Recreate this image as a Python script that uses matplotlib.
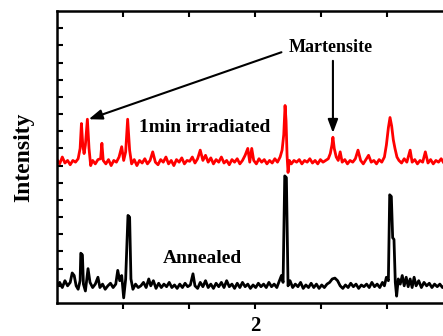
import matplotlib
matplotlib.use("Agg")
import matplotlib.pyplot as plt

plt.rcParams['font.family'] = ['Liberation Serif', 'DejaVu Serif']

# ---- data (2theta in degrees, intensity in arbitrary offset units) ----
irr_x = [30.0, 30.4, 30.8, 31.2, 31.6, 32.0, 32.4, 32.8, 33.2, 33.5, 33.7, 33.9, 34.1, 34.3, 34.6, 34.85,
         35.1, 35.4, 35.8, 36.2, 36.6, 36.8, 37.0, 37.4, 37.8, 38.2, 38.6, 39.0, 39.4, 39.8, 40.1, 40.4,
         40.7, 41.0, 41.3, 41.7, 42.1, 42.5, 42.9, 43.3, 43.7, 44.1, 44.5, 44.9, 45.3, 45.7, 46.1, 46.5,
         46.9, 47.3, 47.7, 48.1, 48.5, 48.9, 49.3, 49.7, 50.1, 50.5, 50.9, 51.3, 51.7, 52.1, 52.5, 52.9,
         53.3, 53.7, 54.1, 54.5, 54.9, 55.3, 55.7, 56.1, 56.5, 56.9, 57.3, 57.7, 58.1, 58.5, 58.9, 59.2,
         59.5, 59.8, 60.2, 60.6, 61.0, 61.4, 61.8, 62.2, 62.6, 63.0, 63.4, 63.8, 64.1, 64.35, 64.55, 64.7,
         64.85, 65.0, 65.2, 65.5, 65.9, 66.3, 66.7, 67.1, 67.5, 67.9, 68.3, 68.7, 69.1, 69.5, 69.9, 70.3,
         70.7, 71.1, 71.4, 71.65, 71.8, 72.0, 72.3, 72.6, 72.9, 73.2, 73.6, 74.0, 74.4, 74.8, 75.2, 75.6,
         76.0, 76.4, 76.8, 77.2, 77.6, 78.0, 78.4, 78.8, 79.2, 79.6, 79.9, 80.2, 80.45, 80.7, 80.95, 81.2,
         81.5, 81.8, 82.2, 82.6, 83.0, 83.5, 83.8, 84.2, 84.6, 85.0, 85.4, 85.8, 86.2, 86.6, 87.0, 87.4,
         87.8, 88.2, 88.6, 89.0, 89.5, 90.0]
irr_y = [8.35, 8.1, 8.5, 8.15, 8.3, 8.05, 8.3, 8.2, 8.4, 9.0, 10.45, 9.2, 8.7, 9.2, 10.7, 9.0,
         8.0, 8.3, 8.1, 8.35, 8.4, 9.3, 8.3, 8.1, 8.35, 8.0, 8.3, 8.2, 8.5, 9.1, 8.3, 8.8,
         10.7, 8.9, 8.1, 8.35, 8.0, 8.3, 8.15, 8.4, 8.1, 8.3, 8.8, 8.2, 8.05, 8.35, 8.2, 8.5,
         8.1, 8.3, 8.0, 8.35, 8.2, 8.45, 8.1, 8.3, 8.25, 8.5, 8.15, 8.4, 8.9, 8.3, 8.6, 8.2,
         8.45, 8.1, 8.35, 8.2, 8.5, 8.15, 8.3, 8.05, 8.35, 8.2, 8.4, 8.1, 8.3, 8.6, 9.0, 8.2,
         9.0, 8.3, 8.1, 8.4, 8.2, 8.35, 8.1, 8.3, 8.15, 8.4, 8.2, 8.5, 8.9, 9.8, 11.5, 10.6,
         8.6, 7.6, 8.3, 8.1, 8.3, 8.2, 8.35, 8.1, 8.3, 8.2, 8.4, 8.15, 8.3, 8.1, 8.35, 8.2,
         8.3, 8.4, 8.7, 9.2, 9.65, 9.0, 8.5, 8.3, 8.8, 8.2, 8.35, 8.1, 8.3, 8.2, 8.4, 8.9,
         8.3, 8.1, 8.35, 8.6, 8.2, 8.3, 8.1, 8.35, 8.2, 8.5, 9.2, 10.2, 10.8, 10.3, 9.5, 9.0,
         8.5, 8.3, 8.15, 8.4, 8.2, 8.9, 8.2, 8.35, 8.1, 8.3, 8.2, 8.8, 8.15, 8.35, 8.1, 8.3,
         8.2, 8.4, 8.15, 8.3, 8.2, 8.3]

ann_x = [30.0, 30.4, 30.8, 31.2, 31.6, 32.0, 32.3, 32.6, 32.9, 33.2, 33.5, 33.6, 33.85, 34.0, 34.3, 34.7,
         35.0, 35.4, 35.8, 36.2, 36.5, 36.9, 37.3, 37.7, 38.1, 38.5, 38.9, 39.2, 39.5, 39.8, 40.1, 40.4,
         40.75, 41.0, 41.2, 41.5, 41.9, 42.3, 42.7, 43.1, 43.5, 43.9, 44.2, 44.6, 45.0, 45.4, 45.8, 46.2,
         46.6, 47.0, 47.4, 47.8, 48.2, 48.6, 49.0, 49.4, 49.8, 50.2, 50.6, 50.9, 51.3, 51.7, 52.1, 52.5,
         52.9, 53.3, 53.7, 54.1, 54.5, 54.9, 55.3, 55.7, 56.1, 56.5, 56.9, 57.3, 57.7, 58.1, 58.5, 58.9,
         59.3, 59.7, 60.1, 60.5, 60.9, 61.3, 61.7, 62.1, 62.5, 62.9, 63.3, 63.7, 64.0, 64.25, 64.5, 64.75,
         65.0, 65.3, 65.7, 66.1, 66.5, 66.9, 67.3, 67.7, 68.1, 68.5, 68.9, 69.3, 69.7, 70.1, 70.5, 70.9,
         71.3, 71.7, 72.1, 72.5, 72.9, 73.3, 73.7, 74.1, 74.5, 74.9, 75.3, 75.7, 76.1, 76.5, 76.9, 77.3,
         77.7, 78.1, 78.5, 78.9, 79.3, 79.6, 79.9, 80.2, 80.4, 80.65, 80.85, 81.05, 81.25, 81.45, 81.7, 82.0,
         82.3, 82.6, 82.9, 83.2, 83.5, 83.8, 84.1, 84.4, 84.8, 85.2, 85.6, 86.0, 86.4, 86.8, 87.2, 87.6,
         88.0, 88.4, 88.8, 89.2, 89.6, 90.0]
ann_y = [1.0, 1.2, 0.9, 1.3, 1.0, 1.2, 1.75, 1.6, 1.0, 0.8, 1.3, 2.9, 2.8, 1.1, 0.7, 2.0,
         1.2, 0.9, 1.1, 1.5, 0.9, 1.1, 0.8, 1.0, 1.15, 0.9, 1.1, 1.9, 1.3, 1.6, 0.3, 1.4,
         5.1, 5.0, 1.4, 0.8, 1.1, 0.9, 1.0, 1.2, 0.9, 1.4, 1.0, 1.3, 0.85, 1.15, 0.9, 1.1,
         0.95, 1.2, 0.9, 1.05, 0.85, 1.1, 0.9, 1.15, 0.95, 1.05, 1.7, 1.0, 0.85, 1.2, 0.95, 1.3,
         0.9, 1.1, 0.85, 1.15, 0.95, 1.2, 0.9, 1.3, 0.95, 1.1, 0.85, 1.15, 0.9, 1.2, 0.95, 1.1,
         0.85, 1.05, 0.9, 1.15, 0.95, 1.1, 0.9, 1.2, 0.95, 1.1, 0.9, 1.3, 1.6, 1.2, 7.4, 7.3,
         1.0, 1.3, 0.9, 1.1, 0.95, 1.2, 0.85, 1.05, 0.9, 1.15, 0.9, 1.1, 0.85, 1.05, 0.9, 1.1,
         1.2, 1.4, 1.45, 1.3, 1.0, 0.85, 1.05, 0.9, 1.15, 0.95, 1.1, 0.85, 1.05, 0.95, 1.1, 0.9,
         1.2, 0.95, 1.1, 0.9, 1.2, 1.0, 1.5, 1.3, 6.3, 6.2, 3.8, 3.7, 1.2, 0.4, 1.4, 1.1,
         1.6, 1.0, 1.5, 0.95, 1.4, 0.9, 1.5, 1.0, 1.3, 0.9, 1.2, 1.0, 1.15, 0.9, 1.1, 0.95,
         1.1, 0.9, 1.05, 0.95, 1.1, 1.0]

labels = ["1min irradiated", "Annealed"]
annot_text = "Martensite"
xlabel = "2"
ylabel = "Intensity"

fig = plt.figure(figsize=(4.43, 3.36), dpi=100)
ax = fig.add_axes([0.1287, 0.0982, 0.894, 0.869])

ax.plot(irr_x, irr_y, color='#ff0000', lw=2.0)
ax.plot(ann_x, ann_y, color='black', lw=2.0)

ax.set_xlim(30, 90)
ax.set_ylim(0, 17)
ax.set_xticks([40, 50, 60, 70, 80])
ax.set_yticks(range(1, 17))
ax.set_xticklabels([])
ax.set_yticklabels([])
ax.tick_params(axis='x', bottom=True, top=False, direction='out', length=4, width=1.5)
ax.tick_params(axis='y', left=True, right=False, direction='in', length=4, width=1.5)
sec = ax.secondary_xaxis('top')
sec.set_xticks([40, 50, 60, 70, 80])
sec.set_xticklabels([])
sec.tick_params(direction='in', length=4, width=1.5)
sec.spines['top'].set_visible(False)
for s in ax.spines.values():
    s.set_linewidth(1.8)

ax.set_ylabel(ylabel, fontsize=17, fontweight='bold')
ax.yaxis.set_label_coords(-0.058, 0.5)
ax.set_xlabel(xlabel, fontsize=15, fontweight='bold')
ax.xaxis.set_label_coords(0.5, -0.045)

ax.text(52.4, 10.2, labels[0], fontsize=14, fontweight='bold', ha='center', va='center')
ax.text(52.1, 2.6, labels[1], fontsize=14, fontweight='bold', ha='center', va='center')
ax.text(71.5, 14.9, annot_text, fontsize=13, fontweight='bold', ha='center', va='center')

arrow_kw = dict(arrowstyle='-|>,head_length=0.8,head_width=0.3', color='black', lw=1.5, shrinkA=0, shrinkB=0)
ax.annotate('', xy=(34.8, 10.7), xytext=(64.0, 14.6), arrowprops=arrow_kw)
ax.annotate('', xy=(71.8, 9.9), xytext=(71.8, 14.1), arrowprops=arrow_kw)

fig.savefig('out.png', dpi=100)
